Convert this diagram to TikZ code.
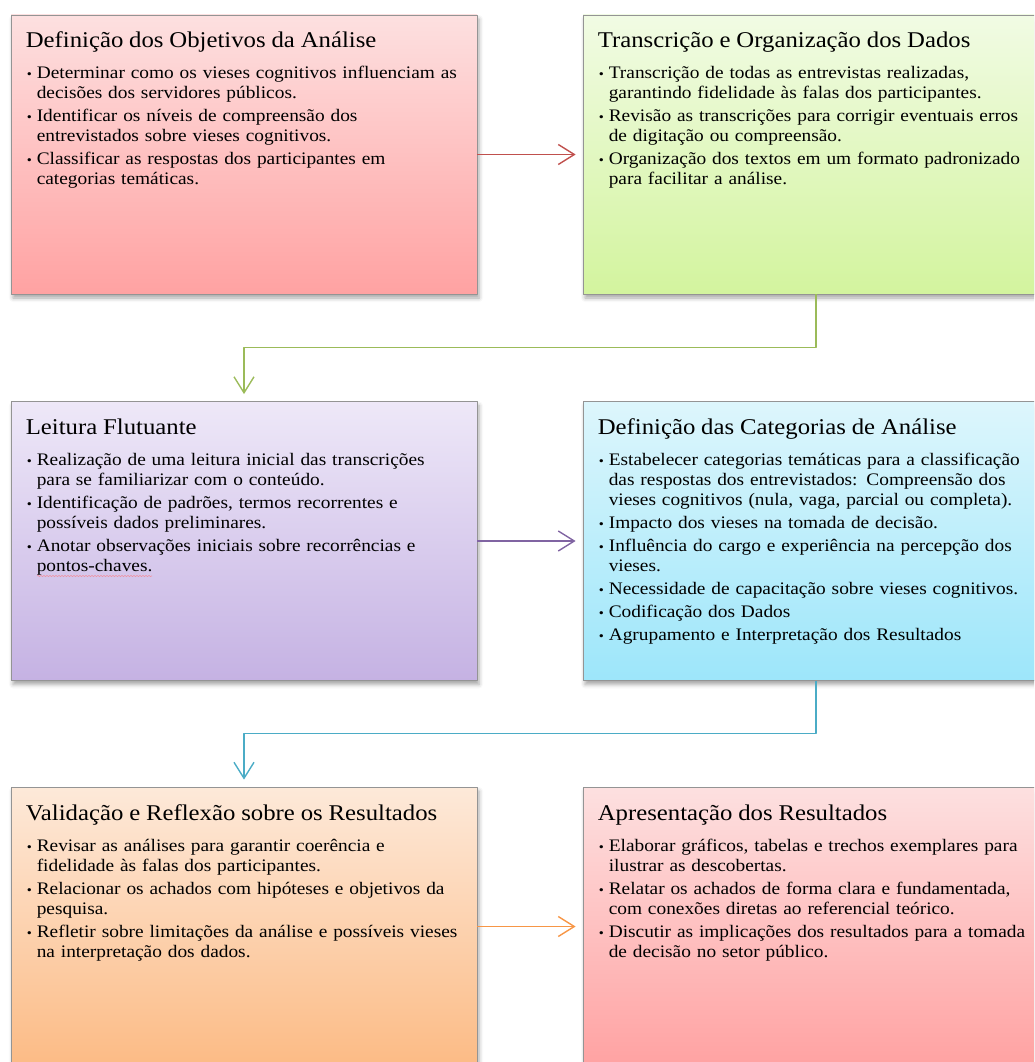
\documentclass[tikz,border=0pt]{standalone}
\usepackage{fontspec}
\setmainfont{Liberation Serif}[FakeStretch=1.1]
\usetikzlibrary{arrows.meta,shadows.blur,calc,decorations.pathmorphing}

\definecolor{rosaA}{HTML}{FDE0E0}   \definecolor{rosaB}{HTML}{FFA2A2}
\definecolor{verdeA}{HTML}{F1FBE4}  \definecolor{verdeB}{HTML}{D3F49E}
\definecolor{lilasA}{HTML}{EEE8F8}  \definecolor{lilasB}{HTML}{C5B2E3}
\definecolor{cianoA}{HTML}{DDF6FC}  \definecolor{cianoB}{HTML}{9DE6FA}
\definecolor{pessegoA}{HTML}{FDE9D9}\definecolor{pessegoB}{HTML}{FCBB85}
\definecolor{setaVermelha}{HTML}{C0504D} \definecolor{setaVerde}{HTML}{9BBB59}
\definecolor{setaRoxa}{HTML}{8064A2}     \definecolor{setaAzul}{HTML}{4BACC6}
\definecolor{setaLaranja}{HTML}{F79646}

\newcommand{\titulo}[1]{\noindent\rule{0pt}{25pt}{\fontsize{22.5}{26}\selectfont #1}\par\vspace{8pt}}
\newcommand{\itm}[1]{\par\vspace{3pt}\hangindent=11pt\hangafter=1\noindent\hspace*{1pt}\makebox[10pt][l]{\fontsize{13}{13}\selectfont •}#1\par}

\begin{document}
\begin{tikzpicture}[x=1pt,y=-1pt, line join=round,
  etapa/.style={draw=black!42, line width=0.8pt, minimum width=466pt, minimum height=279pt,
    inner sep=0pt, blur shadow={shadow xshift=2pt, shadow yshift=-4pt, shadow blur radius=4pt, shadow opacity=35}},
  texto/.style={anchor=north west, inner sep=0pt, text width=470pt, font=\fontsize{17.6}{20}\selectfont},
  seta/.style={line width=1.4pt, -{Straight Barb[length=16pt,width=20pt,line width=1.4pt]}, shorten >=7pt}]
\useasboundingbox (0,0) rectangle (1034,1062);
\clip (0,0) rectangle (1034,1062);
% caixas
\node[etapa, top color=rosaA, bottom color=rosaB] (objetivos) at (244,154.5) {};
\node[etapa, top color=verdeA, bottom color=verdeB] (transcricao) at (816,154.5) {};
\node[etapa, top color=lilasA, bottom color=lilasB] (leitura) at (244,541) {};
\node[etapa, top color=cianoA, bottom color=cianoB] (categorias) at (816,541) {};
\node[etapa, top color=pessegoA, bottom color=pessegoB] (validacao) at (244,926.5) {};
\node[etapa, top color=rosaA, bottom color=rosaB] (apresentacao) at (816,926.5) {};
% textos
\node[texto] (tObjetivos) at ([shift={(15,8)}]objetivos.north west) {%
\titulo{Definição dos Objetivos da Análise}
\itm{Determinar como os vieses cognitivos influenciam as\newline decisões dos servidores públicos.}
\itm{Identificar os níveis de compreensão dos\newline entrevistados sobre vieses cognitivos.}
\itm{Classificar as respostas dos participantes em\newline categorias temáticas.}};
\node[texto] (tTranscricao) at ([shift={(15,8)}]transcricao.north west) {%
\titulo{Transcrição e Organização dos Dados}
\itm{Transcrição de todas as entrevistas realizadas,\newline garantindo fidelidade às falas dos participantes.}
\itm{Revisão as transcrições para corrigir eventuais erros\newline de digitação ou compreensão.}
\itm{Organização dos textos em um formato padronizado\newline para facilitar a análise.}};
\node[texto] (tLeitura) at ([shift={(15,8)}]leitura.north west) {%
\titulo{Leitura Flutuante}
\itm{Realização de uma leitura inicial das transcrições\newline para se familiarizar com o conteúdo.}
\itm{Identificação de padrões, termos recorrentes e\newline possíveis dados preliminares.}
\itm{Anotar observações iniciais sobre recorrências e\newline pontos-chaves.}};
\node[texto] (tCategorias) at ([shift={(15,8)}]categorias.north west) {%
\titulo{Definição das Categorias de Análise}
\itm{Estabelecer categorias temáticas para a classificação\newline das respostas dos entrevistados: Compreensão dos\newline vieses cognitivos (nula, vaga, parcial ou completa).}
\itm{Impacto dos vieses na tomada de decisão.}
\itm{Influência do cargo e experiência na percepção dos\newline vieses.}
\itm{Necessidade de capacitação sobre vieses cognitivos.}
\itm{Codificação dos Dados}
\itm{Agrupamento e Interpretação dos Resultados}};
\node[texto] (tValidacao) at ([shift={(15,9)}]validacao.north west) {%
\titulo{Validação e Reflexão sobre os Resultados}
\itm{Revisar as análises para garantir coerência e\newline fidelidade às falas dos participantes.}
\itm{Relacionar os achados com hipóteses e objetivos da\newline pesquisa.}
\itm{Refletir sobre limitações da análise e possíveis vieses\newline na interpretação dos dados.}};
\node[texto] (tApresentacao) at ([shift={(15,9)}]apresentacao.north west) {%
\titulo{Apresentação dos Resultados}
\itm{Elaborar gráficos, tabelas e trechos exemplares para\newline ilustrar as descobertas.}
\itm{Relatar os achados de forma clara e fundamentada,\newline com conexões diretas ao referencial teórico.}
\itm{Discutir as implicações dos resultados para a tomada\newline de decisão no setor público.}};
% sublinhado ondulado
\draw[red!55, opacity=0.6, line width=0.6pt, decorate, decoration={snake, segment length=3pt, amplitude=0.7pt}] (37,576) -- (152,576);
% setas
\draw[seta, setaVermelha] (objetivos) -- (transcricao);
\coordinate (m1) at ($(transcricao.south)!0.5!(leitura.north)$);
\draw[seta, setaVerde] (transcricao.south) |- (m1) -| (leitura.north);
\draw[seta, setaRoxa] (leitura) -- (categorias);
\coordinate (m2) at ($(categorias.south)!0.5!(validacao.north)$);
\draw[seta, setaAzul] (categorias.south) |- (m2) -| (validacao.north);
\draw[seta, setaLaranja] (validacao) -- (apresentacao);
\end{tikzpicture}
\end{document}
